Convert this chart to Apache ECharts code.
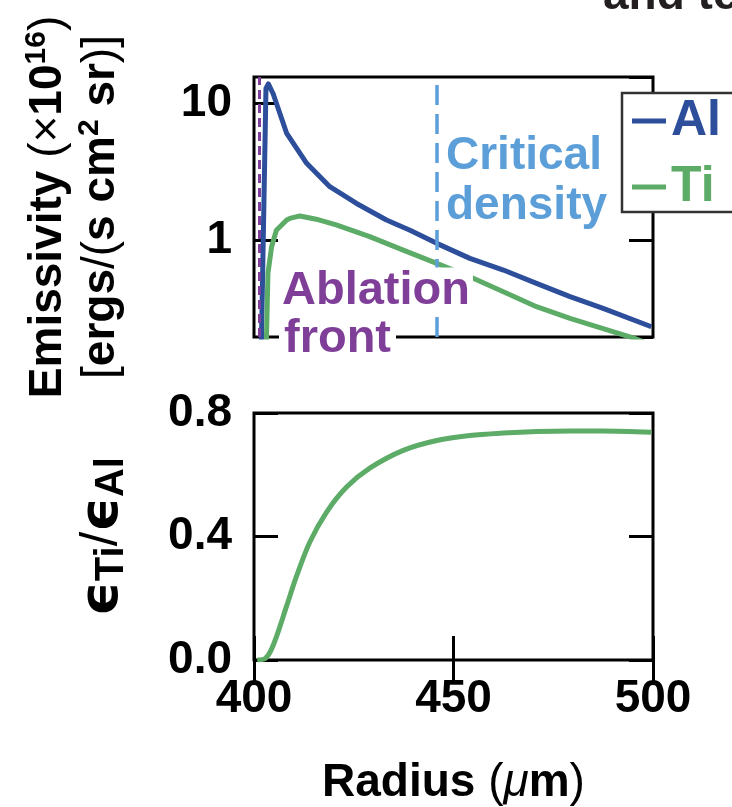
<!DOCTYPE html>
<html><head><meta charset="utf-8">
<script src="https://cdn.jsdelivr.net/npm/echarts@6/dist/echarts.min.js"></script>
<style>html,body{margin:0;padding:0;background:#fff}#c{width:732px;height:807px}</style>
</head><body><div id="c"></div>
<script>
// ---- data ----
const radiusTicks = [400, 450, 500];
const emisTickValues = [1, 10];
const ratioTickValues = [0.0, 0.4, 0.8];

const alRadius = [401.7, 403.0, 403.6, 404.8, 408.2, 413.2, 419.0, 425.7, 433.2, 439.1, 445.8, 454.1, 462.5, 470.8, 479.2, 487.5, 499.6];
const alEmis   = [0.1, 12.8, 13.8, 11.7, 6.0, 3.63, 2.45, 1.85, 1.40, 1.18, 0.946, 0.735, 0.604, 0.483, 0.386, 0.317, 0.233];

const tiRadius = [402.9, 403.5, 404.4, 405.6, 406.5, 408.2, 409.0, 411.5, 415.6, 420.6, 429.0, 437.4, 445.8, 454.1, 462.5, 470.8, 479.2, 487.5, 495.0, 500.0];
const tiEmis   = [0.1, 0.573, 0.89, 1.18, 1.25, 1.40, 1.44, 1.50, 1.42, 1.29, 1.06, 0.845, 0.676, 0.54, 0.42, 0.326, 0.268, 0.226, 0.193, 0.17];

const ratioRadius = [400.8, 402.8, 404.2, 405.7, 408.2, 410.7, 414.0, 418.2, 423.2, 429.1, 437.4, 445.8, 454.1, 462.5, 470.8, 479.2, 487.5, 499.6];
const ratioValues = [0.0, 0.005, 0.03, 0.078, 0.176, 0.273, 0.382, 0.479, 0.560, 0.622, 0.679, 0.711, 0.727, 0.735, 0.740, 0.742, 0.742, 0.738];

const criticalDensityRadius = 445.8;
const ablationFrontRadius = 401.2;

// ---- styling ----
const FONT = 'Liberation Sans, Arial, Helvetica, sans-serif';
const AL_C = '#2c4e9b', TI_C = '#5cab66', CRIT_C = '#5c9fd8', ABL_C = '#7f3f98';

function zip(a, b) { return a.map((v, i) => [v, b[i]]); }
const tickStyle = { show: true, inside: true, length: 24, lineStyle: { color: '#000', width: 3 } };
const noTick = { show: false };
const noLabel = { show: false };
const noLine = { show: false };
const noSplit = { show: false };

const chart = echarts.init(document.getElementById('c'), null, { renderer: 'canvas' });
chart.setOption({
  animation: false,
  backgroundColor: '#fff',
  textStyle: { fontFamily: FONT },
  grid: [
    { left: 254, top: 77, width: 399, height: 260, show: true, borderColor: '#000', borderWidth: 3, backgroundColor: 'transparent', containLabel: false },
    { left: 254, top: 413, width: 399, height: 248, show: true, borderColor: '#000', borderWidth: 3, backgroundColor: 'transparent', containLabel: false }
  ],
  legend: {
    orient: 'vertical', left: 622, top: 93,
    padding: [3, 40, 0, 10], itemGap: 16,
    itemWidth: 34, itemHeight: 5, icon: 'rect',
    backgroundColor: '#fff', borderColor: '#333', borderWidth: 2.5,
    selectedMode: false, z: 20,
    textStyle: { fontFamily: FONT, fontSize: 50, fontWeight: 'bold', lineHeight: 50 },
    data: [
      { name: 'Al', textStyle: { color: AL_C } },
      { name: 'Ti', textStyle: { color: TI_C } }
    ]
  },
  xAxis: [
    { gridIndex: 0, type: 'value', min: 400, max: 500, interval: 50,
      axisLine: noLine, axisTick: noTick, axisLabel: noLabel, splitLine: noSplit },
    { gridIndex: 1, type: 'value', min: 400, max: 500, interval: 50, position: 'bottom',
      axisLine: noLine, axisTick: tickStyle, splitLine: noSplit,
      axisLabel: { fontFamily: FONT, fontSize: 46, fontWeight: 'bold', color: '#000', margin: 16,
        formatter: v => radiusTicks.includes(v) ? String(v) : '' },
      name: '{b|Radius }{r|(}{mu|μ}{b|m}{r|)}', nameLocation: 'middle', nameGap: 99,
      nameTextStyle: { rich: {
        b: { fontFamily: FONT, fontSize: 46, fontWeight: 'bold', color: '#000', lineHeight: 48 },
        r: { fontFamily: FONT, fontSize: 46, fontWeight: 'normal', color: '#000', lineHeight: 48 },
        mu: { fontFamily: FONT, fontSize: 46, fontWeight: 'normal', fontStyle: 'italic', color: '#000', lineHeight: 48 }
      } } },
    { gridIndex: 1, type: 'value', min: 400, max: 500, interval: 50, position: 'top',
      axisLine: noLine, axisTick: tickStyle, axisLabel: noLabel, splitLine: noSplit }
  ],
  yAxis: [
    { gridIndex: 0, type: 'log', logBase: 10, min: 0.196, max: 15.5, position: 'left',
      axisLine: noLine, axisTick: tickStyle, splitLine: noSplit,
      axisLabel: { fontFamily: FONT, fontSize: 46, fontWeight: 'bold', color: '#000', margin: 22,
        showMinLabel: false, showMaxLabel: false,
        formatter: v => { const m = emisTickValues.find(t => Math.abs(t - v) < 1e-6 * t); return m ? String(m) : ''; } },
      name: '{b|Emissivity }{r|(×}{b|10}{sup|16}{r|)}\n{r|[}{b|ergs}{r|/(}{b|s cm}{sup|2}{b| sr}{r|)]}',
      nameLocation: 'middle', nameRotate: 90, nameGap: 126,
      nameTextStyle: { lineHeight: 53, rich: {
        b: { fontFamily: FONT, fontSize: 46, fontWeight: 'bold', color: '#000', lineHeight: 53 },
        r: { fontFamily: FONT, fontSize: 46, fontWeight: 'normal', color: '#000', lineHeight: 53 },
        sup: { fontFamily: FONT, fontSize: 30, fontWeight: 'bold', color: '#000', lineHeight: 26, verticalAlign: 'top' }
      } } },
    { gridIndex: 0, type: 'log', logBase: 10, min: 0.196, max: 15.5, position: 'right',
      axisLine: noLine, axisTick: tickStyle, axisLabel: noLabel, splitLine: noSplit },
    { gridIndex: 1, type: 'value', min: 0, max: 0.8, interval: 0.4, position: 'left',
      axisLine: noLine, axisTick: tickStyle, splitLine: noSplit,
      axisLabel: { fontFamily: FONT, fontSize: 46, fontWeight: 'bold', color: '#000', margin: 22,
        formatter: v => { const m = ratioTickValues.find(t => Math.abs(t - v) < 1e-6); return m !== undefined ? m.toFixed(1) : ''; } },
      name: '{e|ϵ}{s|Ti}{sl|/}{e|ϵ}{s|Al}', nameLocation: 'middle', nameRotate: 90, nameGap: 122,
      nameTextStyle: { rich: {
        e: { fontFamily: 'DejaVu Sans, Liberation Sans, sans-serif', fontSize: 54, fontWeight: 'bold', color: '#000', lineHeight: 58 },
        sl: { fontFamily: FONT, fontSize: 52, fontWeight: 'normal', color: '#000', lineHeight: 58 },
        s: { fontFamily: FONT, fontSize: 40, fontWeight: 'bold', color: '#000', lineHeight: 40, verticalAlign: 'bottom' }
      } } },
    { gridIndex: 1, type: 'value', min: 0, max: 0.8, interval: 0.4, position: 'right',
      axisLine: noLine, axisTick: tickStyle, axisLabel: noLabel, splitLine: noSplit }
  ],
  series: [
    { name: 'Al', type: 'line', xAxisIndex: 0, yAxisIndex: 0, data: zip(alRadius, alEmis),
      showSymbol: false, clip: true, color: AL_C, lineStyle: { color: AL_C, width: 5, join: 'round' }, z: 3,
      markLine: { silent: true, symbol: ['none', 'none'], label: { show: false }, animation: false,
        data: [
          { xAxis: criticalDensityRadius, lineStyle: { color: CRIT_C, width: 3.5, type: [20, 9] } },
          { xAxis: ablationFrontRadius, lineStyle: { color: ABL_C, width: 3, type: [9, 5] } }
        ] } },
    { name: 'Ti', type: 'line', xAxisIndex: 0, yAxisIndex: 0, data: zip(tiRadius, tiEmis),
      showSymbol: false, clip: true, color: TI_C, lineStyle: { color: TI_C, width: 5, join: 'round' }, z: 3 },
    { name: 'ratio', type: 'line', xAxisIndex: 1, yAxisIndex: 2, data: zip(ratioRadius, ratioValues),
      showSymbol: false, clip: true, smooth: 0.3, color: TI_C, lineStyle: { color: TI_C, width: 5 }, z: 3 }
  ],
  graphic: [
    { type: 'text', z: 30, style: { text: 'and te', x: 603, y: -4, font: 'bold 46px ' + FONT, fill: '#231f20', verticalAlign: 'middle', align: 'left' } },
    { type: 'text', z: 30, style: { text: 'Critical', x: 446, y: 156, font: 'bold 46px ' + FONT, fill: CRIT_C, verticalAlign: 'middle', align: 'left' } },
    { type: 'text', z: 30, style: { text: 'density', x: 446, y: 206, font: 'bold 46px ' + FONT, fill: CRIT_C, verticalAlign: 'middle', align: 'left' } },
    { type: 'text', z: 30, style: { text: 'Ablation', x: 279, y: 291, font: 'bold 47px ' + FONT, fill: ABL_C, verticalAlign: 'middle', align: 'left', backgroundColor: '#fff', padding: [0, 3] } },
    { type: 'text', z: 30, style: { text: 'front', x: 279, y: 339, font: 'bold 47px ' + FONT, fill: ABL_C, verticalAlign: 'middle', align: 'left', backgroundColor: '#fff', padding: [0, 5] } }
  ]
});
</script></body></html>
